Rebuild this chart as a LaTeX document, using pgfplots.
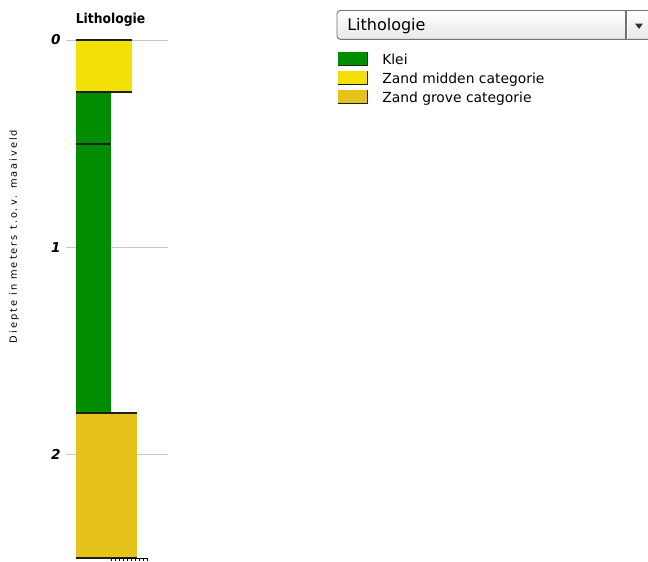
\documentclass[border=0pt]{standalone}
\usepackage{pgfplots}
\pgfplotsset{compat=1.18}
\usepackage{fontspec}
\setmainfont{DejaVu Sans}
\newfontfamily\condbold{DejaVu Sans Condensed}[BoldFont={DejaVu Sans Condensed Bold}]
\newfontfamily\spaced{DejaVu Sans}[LetterSpace=20]

\definecolor{klei}{RGB}{0,142,0}
\definecolor{zandmid}{RGB}{243,224,6}
\definecolor{zandgrof}{RGB}{230,195,26}
\definecolor{edge}{RGB}{30,30,30}

\begin{document}
\begin{tikzpicture}[x=0.75pt,y=-0.75pt]
\path[use as bounding box] (0,0) rectangle (648,561);

% kolom
\begin{axis}[
    at={(49.5pt,-418.275pt)}, anchor=south west,
    scale only axis,
    width=76.5pt, height=388.3pt,
    xmin=0, xmax=102,
    ymin=0, ymax=2.5,
    y dir=reverse,
    axis line style={draw=none},
    xtick=\empty,
    ytick={0,1,2},
    major tick length=0pt,
    ymajorgrids=true,
    grid style={color=black!22, line width=0.7pt},
    /pgf/number format/assume math mode=true,
    yticklabel style={font=\fontsize{10.2}{11}\selectfont\bfseries\itshape, inner sep=0pt, xshift=-3.9pt},
    clip=false,
]
% lagen: x = breedte van de kolom, y = diepte (m)
\addplot[fill=zandmid, draw=none] coordinates {(10,0) (66,0) (66,0.25) (10,0.25)} -- cycle;
\addplot[fill=klei, draw=none] coordinates {(10,0.25) (45,0.25) (45,0.5) (10,0.5)} -- cycle;
\addplot[fill=klei, draw=none] coordinates {(10,0.5) (45,0.5) (45,1.8) (10,1.8)} -- cycle;
\addplot[fill=zandgrof, draw=none] coordinates {(10,1.8) (71,1.8) (71,2.5) (10,2.5)} -- cycle;
% laaggrenzen
\addplot[edge, line width=1.5pt] coordinates {(10,0) (66,0)};
\addplot[edge, line width=1.5pt] coordinates {(10,0.25) (66,0.25)};
\addplot[edge, line width=1.5pt] coordinates {(10,0.5) (45,0.5)};
\addplot[edge, line width=1.5pt] coordinates {(10,1.8) (71,1.8)};
\addplot[edge, line width=1.5pt] coordinates {(10,2.5) (71,2.5)};
\end{axis}

% titel en as-label
\node[anchor=base, inner sep=0pt, font=\condbold\bfseries\fontsize{10.3}{12}\selectfont] at (110.5,23.3) {Lithologie};
\node[anchor=base, rotate=90, inner sep=0pt, font=\spaced\fontsize{7.4}{9}\selectfont] at (16.8,236.5) {Diepte in meters t.o.v. maaiveld};

% resten onderaan
\draw[black, line width=0.6pt] (110,558.3) -- (148,558.3);
\foreach \i in {111,115,119,123,127,131,135,139,143,147}
  \draw[black, line width=0.5pt] (\i,558) -- (\i,561);

% keuzelijst
\shade[top color=white, bottom color=black!9, rounded corners=2.5pt, draw=black!55, line width=0.7pt]
  (337,10.5) rectangle (668,39.3);
\draw[black!55, line width=0.9pt] (626,10.5) -- (626,39.3);
\draw[white, line width=0.6pt] (627.5,11) -- (627.5,38.8);
\fill[black!80] (635,23.5) -- (643,23.5) -- (639,29) -- cycle;
\node[anchor=base west, inner sep=0pt, font=\fontsize{12}{14}\selectfont] at (347,30.7) {Lithologie};

% legenda
\foreach \c/\y/\t in {klei/51.7/Klei, zandmid/70.7/Zand midden categorie, zandgrof/89.8/Zand grove categorie} {
  \fill[\c] (337.5,\y) rectangle (367.5,\y+14);
  \draw[edge, line width=0.8pt] (337.5,\y+14) -- (367.5,\y+14) -- (367.5,\y);
  \node[anchor=base west, inner sep=0pt, font=\fontsize{10.4}{12}\selectfont] at (382,\y+12.3) {\t};
}
\end{tikzpicture}
\end{document}
